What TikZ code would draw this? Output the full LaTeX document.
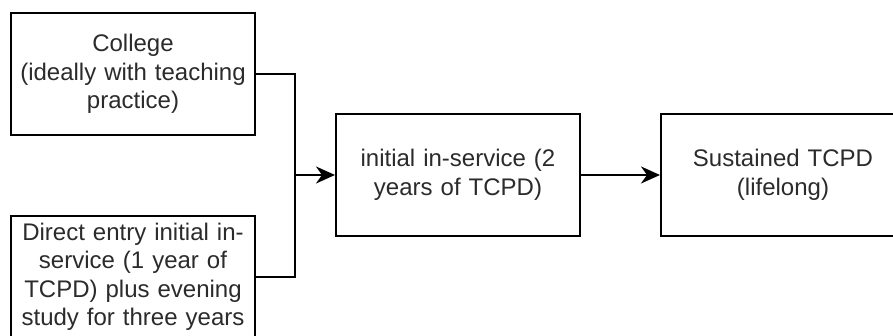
\documentclass[tikz,border=0pt]{standalone}
\usepackage{fontspec}
\setmainfont{Liberation Sans}
\usetikzlibrary{arrows.meta}
\definecolor{txt}{HTML}{2B2B2B}
\begin{document}
\begin{tikzpicture}[x=1pt,y=1pt,
  box/.style={draw=black,line width=2pt,fill=white,minimum width=244pt,minimum height=122pt,
    inner sep=0pt,text width=236pt,align=center,text=txt,
    font=\fontsize{24}{28.5}\selectfont},
  conn/.style={draw=black,line width=2pt},
  arr/.style={conn,-{Stealth[length=19pt,width=17pt,inset=6pt]}}]
\useasboundingbox (0,0) rectangle (893,336);
\clip (0,0) rectangle (893,336);
\node[box] (col) at (133,262) {College\\(ideally with teaching\\practice)};
\node[box] (dir) at (133,59) {Direct entry initial in-\\service (1 year of\\TCPD) plus evening\\study for three years};
\node[box] (mid) at (458,161) {initial in-service (2\\years of TCPD)};
\node[box] (sus) at (783,161) {Sustained TCPD\\(lifelong)};
\coordinate (j) at (295,161);
\draw[conn] (col.east) -| (j);
\draw[conn] (dir.east) -| (j);
\draw[arr] (j) -- (mid.west);
\draw[arr] (mid.east) -- (sus.west);
\end{tikzpicture}
\end{document}
